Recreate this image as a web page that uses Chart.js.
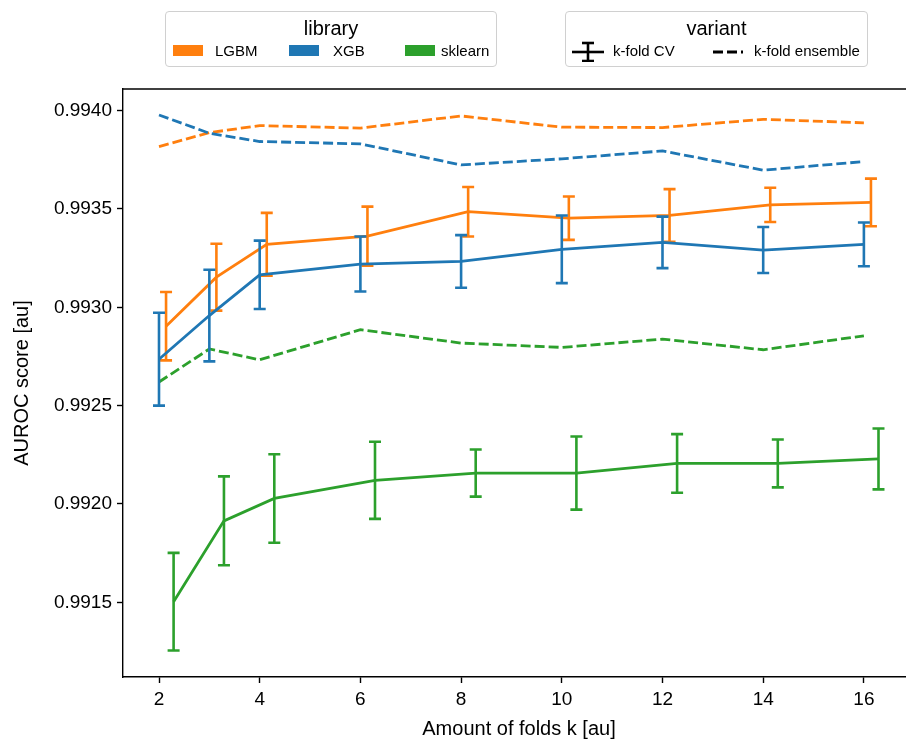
<!DOCTYPE html>
<html>
<head>
<meta charset="utf-8">
<script src="https://cdn.jsdelivr.net/npm/chart.js@4"></script>
<style>
  html, body { margin: 0; padding: 0; background: #fff; overflow: hidden; }
  #wrap { position: relative; width: 906px; height: 741px; overflow: hidden; }
  #plot { position: absolute; left: 0; top: 0; }
  .legend { position: absolute; top: 11px; height: 54px; border: 1px solid #d0d0d0; border-radius: 4px;
            background: rgba(255,255,255,0.8); font-family: "Liberation Sans", Arial, sans-serif; color: #000; }
  .legend .title { position: absolute; left: 0; right: 0; top: 4px; text-align: center; font-size: 20px; line-height: 24px; }
  .legend .item { position: absolute; top: 30px; font-size: 15px; line-height: 18px; }
  .legend .patch { position: absolute; top: 33px; width: 30px; height: 11px; }
  .legend svg { position: absolute; top: 28px; }
</style>
</head>
<body>
<div id="wrap">
  <canvas id="plot" width="915" height="741"></canvas>

  <div class="legend" style="left:165px; width:330px;">
    <div class="title">library</div>
    <div class="patch" style="left:7px; background:#ff7f0e;"></div>
    <div class="item" style="left:49px;">LGBM</div>
    <div class="patch" style="left:123px; background:#1f77b4;"></div>
    <div class="item" style="left:167px;">XGB</div>
    <div class="patch" style="left:239px; background:#2ca02c;"></div>
    <div class="item" style="left:275px;">sklearn</div>
  </div>

  <div class="legend" style="left:565px; width:301px;">
    <div class="title">variant</div>
    <svg style="left:5px;" width="34" height="22">
      <g stroke="#000" stroke-width="2.6" fill="none">
        <line x1="1" y1="12" x2="33" y2="12"/>
        <line x1="17" y1="3" x2="17" y2="21"/>
        <line x1="11" y1="3" x2="23" y2="3"/>
        <line x1="11" y1="21" x2="23" y2="21"/>
      </g>
    </svg>
    <div class="item" style="left:47px;">k-fold CV</div>
    <svg style="left:146px;" width="32" height="22">
      <line x1="1" y1="12" x2="31" y2="12" stroke="#000" stroke-width="2.8" stroke-dasharray="10,4"/>
    </svg>
    <div class="item" style="left:188px;">k-fold ensemble</div>
  </div>
</div>

<script>
// folds evaluated, and the axis ticks
const folds = [2, 3, 4, 6, 8, 10, 12, 14, 16];
const xTicks = [2, 4, 6, 8, 10, 12, 14, 16];
const yTicks = [0.9915, 0.9920, 0.9925, 0.9930, 0.9935, 0.9940];

// k-fold CV: mean score and std per fold count
const lgbmCvMean = [0.992904, 0.993153, 0.993320, 0.993362, 0.993486, 0.993453, 0.993467, 0.993521, 0.993533];
const lgbmCvStd  = [0.000174, 0.000170, 0.000160, 0.000150, 0.000126, 0.000110, 0.000134, 0.000087, 0.000121];
const xgbCvMean  = [0.992736, 0.992958, 0.993165, 0.993220, 0.993233, 0.993295, 0.993330, 0.993291, 0.993320];
const xgbCvStd   = [0.000236, 0.000233, 0.000174, 0.000140, 0.000134, 0.000172, 0.000131, 0.000117, 0.000111];
const sklCvMean  = [0.991503, 0.991914, 0.992028, 0.992120, 0.992157, 0.992157, 0.992206, 0.992206, 0.992229];
const sklCvStd   = [0.000248, 0.000226, 0.000225, 0.000196, 0.000120, 0.000186, 0.000149, 0.000122, 0.000155];

// k-fold ensemble scores
const lgbmEns = [0.993817, 0.993888, 0.993924, 0.993911, 0.993973, 0.993916, 0.993914, 0.993956, 0.993938];
const xgbEns  = [0.993978, 0.993885, 0.993843, 0.993831, 0.993724, 0.993755, 0.993795, 0.993697, 0.993741];
const sklEns  = [0.992620, 0.992788, 0.992733, 0.992886, 0.992818, 0.992796, 0.992838, 0.992784, 0.992855];

// small x shift so the CV error bars don't sit on top of each other
const dodge = { LGBM: 0.14, XGB: 0, sklearn: 0.29 };

const colors = { LGBM: '#ff7f0e', XGB: '#1f77b4', sklearn: '#2ca02c' };
const FONT = '"Liberation Sans", Arial, sans-serif';

function points(values, shift) {
    return folds.map((k, i) => ({ x: k + shift, y: values[i] }));
}

function cvSet(name, mean, std) {
    return {
        label: name + ' k-fold CV',
        data: points(mean, dodge[name]),
        errors: std,
        borderColor: colors[name],
        borderWidth: 2.8,
        pointRadius: 0,
        tension: 0,
        fill: false
    };
}

function ensSet(name, values) {
    return {
        label: name + ' k-fold ensemble',
        data: points(values, 0),
        borderColor: colors[name],
        borderWidth: 2.8,
        borderDash: [10, 4],
        pointRadius: 0,
        tension: 0,
        fill: false
    };
}

// vertical error bars with caps, drawn right after their own line
const errorBars = {
    id: 'errorBars',
    afterDatasetDraw(chart, args) {
        const ds = chart.data.datasets[args.index];
        if (!ds.errors) return;
        const { ctx, scales: { x, y } } = chart;
        ctx.save();
        ctx.strokeStyle = ds.borderColor;
        ctx.lineWidth = 2.6;
        ds.data.forEach((p, i) => {
            const px = x.getPixelForValue(p.x);
            const top = y.getPixelForValue(p.y + ds.errors[i]);
            const bot = y.getPixelForValue(p.y - ds.errors[i]);
            ctx.beginPath();
            ctx.moveTo(px, top); ctx.lineTo(px, bot);
            ctx.moveTo(px - 6, top); ctx.lineTo(px + 6, top);
            ctx.moveTo(px - 6, bot); ctx.lineTo(px + 6, bot);
            ctx.stroke();
        });
        ctx.restore();
    }
};

// top spine of the axes box
const topSpine = {
    id: 'topSpine',
    afterDraw(chart) {
        const { ctx, chartArea: a } = chart;
        ctx.save();
        ctx.strokeStyle = '#000';
        ctx.lineWidth = 1.4;
        ctx.beginPath();
        ctx.moveTo(a.left, a.top);
        ctx.lineTo(a.right, a.top);
        ctx.stroke();
        ctx.restore();
    }
};

// later datasets are drawn underneath, so sklearn goes first
const datasets = [
    cvSet('sklearn', sklCvMean, sklCvStd),
    cvSet('XGB', xgbCvMean, xgbCvStd),
    cvSet('LGBM', lgbmCvMean, lgbmCvStd),
    ensSet('sklearn', sklEns),
    ensSet('XGB', xgbEns),
    ensSet('LGBM', lgbmEns)
];

new Chart(document.getElementById('plot'), {
    type: 'line',
    data: { datasets },
    options: {
        responsive: false,
        devicePixelRatio: 1,
        animation: false,
        layout: { padding: { top: 89, left: 0, right: 0, bottom: 0 } },
        plugins: { legend: { display: false }, tooltip: { enabled: false } },
        scales: {
            x: {
                type: 'linear',
                min: 1.285,
                max: 17.015,
                afterBuildTicks: s => { s.ticks = xTicks.map(v => ({ value: v })); },
                afterFit: s => { s.height = 64; },
                grid: { drawOnChartArea: false, tickLength: 6, tickWidth: 1.4, tickColor: '#000' },
                border: { color: '#000', width: 1.4 },
                ticks: { color: '#000', padding: 5, maxRotation: 0, autoSkip: false, font: { family: FONT, size: 19 } },
                title: { display: true, text: 'Amount of folds k [au]', color: '#000', padding: 0, font: { family: FONT, size: 20 } }
            },
            y: {
                type: 'linear',
                min: 0.99112,
                max: 0.99411,
                afterBuildTicks: s => { s.ticks = yTicks.map(v => ({ value: v })); },
                afterFit: s => { s.width = 123; },
                grid: { drawOnChartArea: false, tickLength: 6, tickWidth: 1.4, tickColor: '#000' },
                border: { color: '#000', width: 1.4 },
                ticks: { color: '#000', padding: 5, autoSkip: false, font: { family: FONT, size: 19 },
                         callback: v => v.toFixed(4) },
                title: { display: true, text: 'AUROC score [au]', color: '#000', padding: { top: 10 }, font: { family: FONT, size: 20 } }
            }
        }
    },
    plugins: [errorBars, topSpine]
});
</script>
</body>
</html>
